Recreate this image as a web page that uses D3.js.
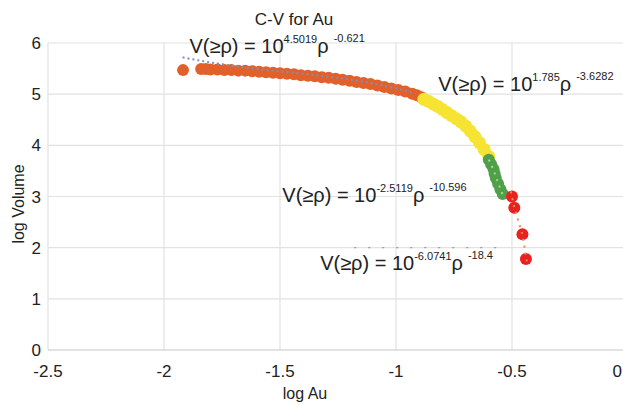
<!DOCTYPE html>
<html>
<head>
<meta charset="utf-8">
<script src="https://cdn.jsdelivr.net/npm/d3@7"></script>
<style>
  body { margin: 0; background: #fff; }
  text { font-family: "Liberation Sans", Arial, sans-serif; fill: #222; }
</style>
</head>
<body>
<div class="chart"></div>
<script>
// C-V fractal plot for Au

var svgWidth = 623;
var svgHeight = 405;

// data
var xTicks = [-2.5, -2, -1.5, -1, -0.5, 0];
var yTicks = [0, 1, 2, 3, 4, 5, 6];

var orangeX = [-1.918, -1.84, -1.82, -1.80, -1.77, -1.74, -1.71, -1.68, -1.65, -1.62, -1.59, -1.56, -1.53, -1.50, -1.47, -1.44, -1.41, -1.38, -1.35, -1.32, -1.29, -1.26, -1.23, -1.20, -1.17, -1.14, -1.11, -1.08, -1.05, -1.02, -0.99, -0.96, -0.93, -0.91, -0.89];
var orangeY = [5.47, 5.49, 5.49, 5.48, 5.48, 5.47, 5.47, 5.46, 5.46, 5.45, 5.44, 5.43, 5.42, 5.41, 5.40, 5.39, 5.37, 5.36, 5.35, 5.33, 5.32, 5.30, 5.28, 5.26, 5.24, 5.22, 5.20, 5.17, 5.14, 5.11, 5.08, 5.05, 5.01, 4.98, 4.94];

var yellowX = [-0.88, -0.86, -0.84, -0.82, -0.80, -0.78, -0.76, -0.74, -0.72, -0.70, -0.68, -0.66, -0.64, -0.62, -0.60];
var yellowY = [4.90, 4.86, 4.81, 4.76, 4.70, 4.64, 4.58, 4.52, 4.46, 4.38, 4.28, 4.17, 4.05, 3.92, 3.78];

var greenX = [-0.60, -0.59, -0.58, -0.575, -0.57, -0.56, -0.55, -0.54];
var greenY = [3.72, 3.63, 3.54, 3.45, 3.36, 3.25, 3.14, 3.05];

var redX = [-0.50, -0.49, -0.455, -0.44];
var redY = [3.00, 2.78, 2.26, 1.78];

// fitted trend lines (dotted)
var trendBlueX = [-1.92, -1.80, -1.65, -1.40, -1.10, -0.92];
var trendBlueY = [5.72, 5.62, 5.52, 5.40, 5.21, 5.02];
var trendGreenX = [-0.60, -0.58, -0.56, -0.54];
var trendGreenY = [3.72, 3.52, 3.27, 3.03];
var trendRedX = [-0.505, -0.49, -0.455, -0.435];
var trendRedY = [3.10, 2.78, 2.26, 1.70];
var trendGrayX = [-1.18, -0.52];
var trendGrayY = [2.0, 2.0];

var equations = [
    { x: -1.89, y: 5.80, coef: "4.5019", exp: "-0.621" },
    { x: -0.818, y: 5.06, coef: "1.785", exp: "-3.6282" },
    { x: -1.49, y: 2.90, coef: "-2.5119", exp: "-10.596" },
    { x: -1.327, y: 1.57, coef: "-6.0741", exp: "-18.4" }
];

var svg = d3.select(".chart")
    .append("svg")
    .attr("width", svgWidth)
    .attr("height", svgHeight);

var x = d3.scaleLinear().domain([-2.5, 0]).range([48, 628]);
var y = d3.scaleLinear().domain([0, 6]).range([350, 43]);

// gridlines
svg.append("g")
    .selectAll("line.vgrid")
    .data(xTicks)
    .enter()
    .append("line")
    .attr("x1", d => x(d)).attr("x2", d => x(d))
    .attr("y1", y(6)).attr("y2", y(0))
    .attr("stroke", "#e2e2e2")
    .attr("stroke-width", 1.2);

svg.append("g")
    .selectAll("line.hgrid")
    .data(yTicks)
    .enter()
    .append("line")
    .attr("x1", x(-2.5)).attr("x2", x(0))
    .attr("y1", d => y(d)).attr("y2", d => y(d))
    .attr("stroke", d => d == 0 ? "#c8c8c8" : "#e2e2e2")
    .attr("stroke-width", 1.2);

// tick labels
svg.append("g")
    .selectAll("text")
    .data(yTicks)
    .enter()
    .append("text")
    .attr("x", 41)
    .attr("y", d => y(d))
    .attr("dy", "0.36em")
    .attr("text-anchor", "end")
    .style("font-size", "17px")
    .text(d => d);

svg.append("g")
    .selectAll("text")
    .data(xTicks)
    .enter()
    .append("text")
    .attr("x", d => d == 0 ? 622 : x(d))
    .attr("y", 377)
    .attr("text-anchor", d => d == 0 ? "end" : "middle")
    .style("font-size", "17px")
    .text(d => d);

// axis titles
svg.append("text")
    .attr("x", 305)
    .attr("y", 399)
    .attr("text-anchor", "middle")
    .style("font-size", "16px")
    .text("log Au");

svg.append("text")
    .attr("transform", "translate(24, 204) rotate(-90)")
    .attr("text-anchor", "middle")
    .style("font-size", "16px")
    .text("log Volume");

svg.append("text")
    .attr("x", 294)
    .attr("y", 25)
    .attr("text-anchor", "middle")
    .style("font-size", "17px")
    .text("C-V for Au");

var line = d3.line()
    .x(d => x(d[0]))
    .y(d => y(d[1]));

svg.append("path")
    .datum(trendGrayX.map((v, i) => [v, trendGrayY[i]]))
    .attr("d", line)
    .attr("fill", "none")
    .attr("stroke", "#999")
    .attr("stroke-width", 1.2)
    .attr("stroke-dasharray", "2,12");

// points
function drawPoints(xs, ys, color, r) {
    svg.append("g")
        .selectAll("circle")
        .data(xs.map((v, i) => [v, ys[i]]))
        .enter()
        .append("circle")
        .attr("cx", d => x(d[0]))
        .attr("cy", d => y(d[1]))
        .attr("r", r)
        .attr("fill", color);
}

drawPoints(orangeX, orangeY, "#e2602a", 6);
drawPoints(yellowX, yellowY, "#f6e332", 6.5);
drawPoints(greenX, greenY, "#4fa048", 6);
drawPoints(redX, redY, "#e8231f", 6);

svg.append("path")
    .datum(trendBlueX.map((v, i) => [v, trendBlueY[i]]))
    .attr("d", line.curve(d3.curveMonotoneX))
    .attr("fill", "none")
    .attr("stroke", "#7890c4")
    .attr("stroke-width", 2)
    .attr("stroke-dasharray", "2,3");

svg.append("path")
    .datum(trendGreenX.map((v, i) => [v, trendGreenY[i]]))
    .attr("d", d3.line().x(d => x(d[0])).y(d => y(d[1])))
    .attr("fill", "none")
    .attr("stroke", "#a9d49c")
    .attr("stroke-width", 2)
    .attr("stroke-dasharray", "2,5");

svg.append("path")
    .datum(trendRedX.map((v, i) => [v, trendRedY[i]]))
    .attr("d", d3.line().x(d => x(d[0])).y(d => y(d[1])))
    .attr("fill", "none")
    .attr("stroke", "#e88a5a")
    .attr("stroke-width", 2)
    .attr("stroke-dasharray", "2,5");

// equation labels
var eq = svg.append("g")
    .selectAll("text")
    .data(equations)
    .enter()
    .append("text")
    .attr("x", d => x(d.x))
    .attr("y", d => y(d.y))
    .style("font-size", "20px");

eq.append("tspan").text("V(≥ρ) = 10");
eq.append("tspan")
    .attr("dy", -10)
    .style("font-size", "11px")
    .text(d => d.coef);
eq.append("tspan")
    .attr("dy", 10)
    .text("ρ");
eq.append("tspan")
    .attr("dx", 5)
    .attr("dy", -11)
    .style("font-size", "11px")
    .text(d => d.exp);
</script>
</body>
</html>
